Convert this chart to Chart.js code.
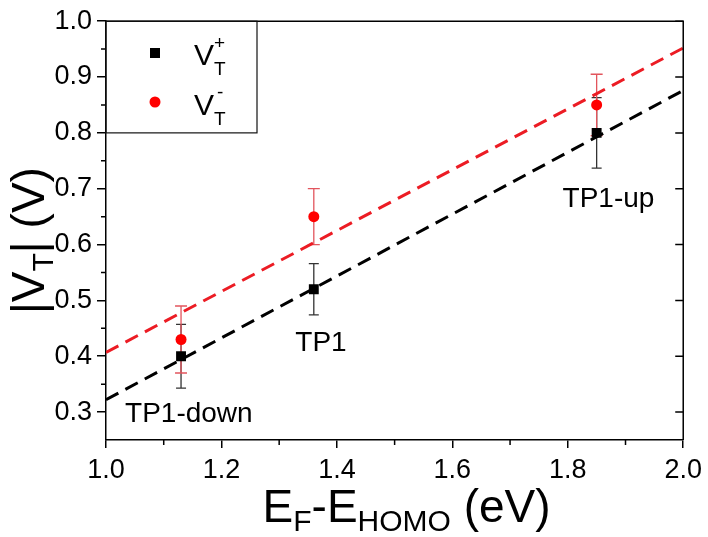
<!DOCTYPE html>
<html>
<head>
<meta charset="utf-8">
<script src="https://cdn.jsdelivr.net/npm/chart.js@4.4.1/dist/chart.umd.min.js"></script>
<style>
  body { margin: 0; background: #fff; }
</style>
</head>
<body>
<canvas id="vt-chart" width="708" height="537"></canvas>
<script>
// E_F - E_HOMO (eV) for the three devices
const energy = [1.13, 1.36, 1.85];
const devices = ['TP1-down', 'TP1', 'TP1-up'];

// |V_T| values and error bars
const vtPlus = [0.40, 0.52, 0.80];
const vtPlusErr = [0.057, 0.046, 0.063];
const vtMinus = [0.43, 0.65, 0.85];
const vtMinusErr = [0.06, 0.05, 0.055];

// linear fits
const fitX = [1.0, 2.0];
const fitPlus = [0.322, 0.876];
const fitMinus = [0.407, 0.952];

// axis ticks
const xTicks = [1.0, 1.2, 1.4, 1.6, 1.8, 2.0];
const xMinor = [1.1, 1.3, 1.5, 1.7, 1.9];
const yTicks = [0.3, 0.4, 0.5, 0.6, 0.7, 0.8, 0.9, 1.0];
const yMinor = [0.35, 0.45, 0.55, 0.65, 0.75, 0.85, 0.95];

const FONT = 'Liberation Sans, Arial, sans-serif';

function pts(xs, ys) {
	return xs.map((x, i) => ({ x: x, y: ys[i] }));
}

// draw text made of pieces (main / sub), centred on cx
function richText(ctx, parts, cx, y) {
	let w = 0;
	parts.forEach(p => {
		ctx.font = p.size + 'px ' + FONT;
		p.w = ctx.measureText(p.t).width;
		w += p.w;
	});
	let x = cx - w / 2;
	parts.forEach(p => {
		ctx.font = p.size + 'px ' + FONT;
		ctx.fillText(p.t, x, y + (p.dy || 0));
		x += p.w;
	});
}

const decor = {
	id: 'decor',
	beforeDatasetsDraw(chart) {
		const ctx = chart.ctx;
		const xs = chart.scales.x, ys = chart.scales.y;
		// error bars
		const bars = [
			{ v: vtPlus, e: vtPlusErr, color: '#333333', cap: 5 },
			{ v: vtMinus, e: vtMinusErr, color: '#e2555d', cap: 6 }
		];
		ctx.save();
		ctx.lineWidth = 1.3;
		bars.forEach(b => {
			ctx.strokeStyle = b.color;
			energy.forEach((ex, i) => {
				const px = xs.getPixelForValue(ex);
				const top = ys.getPixelForValue(b.v[i] + b.e[i]);
				const bot = ys.getPixelForValue(b.v[i] - b.e[i]);
				ctx.beginPath();
				ctx.moveTo(px, top); ctx.lineTo(px, bot);
				ctx.moveTo(px - b.cap, top); ctx.lineTo(px + b.cap, top);
				ctx.moveTo(px - b.cap, bot); ctx.lineTo(px + b.cap, bot);
				ctx.stroke();
			});
		});
		ctx.restore();
	},
	afterDraw(chart) {
		const ctx = chart.ctx;
		const a = chart.chartArea;
		const xs = chart.scales.x, ys = chart.scales.y;
		ctx.save();
		ctx.strokeStyle = '#000';
		ctx.lineWidth = 1.5;
		// frame top + right
		ctx.beginPath();
		ctx.moveTo(a.left, a.top); ctx.lineTo(a.right, a.top); ctx.lineTo(a.right, a.bottom);
		ctx.stroke();
		// right side inward major ticks
		ctx.beginPath();
		yTicks.forEach(v => {
			const py = ys.getPixelForValue(v);
			ctx.moveTo(a.right, py); ctx.lineTo(a.right - 8, py);
		});
		// minor ticks
		yMinor.forEach(v => {
			const py = ys.getPixelForValue(v);
			ctx.moveTo(a.left, py); ctx.lineTo(a.left - 5, py);
		});
		xMinor.forEach(v => {
			const px = xs.getPixelForValue(v);
			ctx.moveTo(px, a.bottom); ctx.lineTo(px, a.bottom + 5);
		});
		ctx.stroke();

		// legend box
		ctx.lineWidth = 1.2;
		ctx.strokeStyle = '#111';
		ctx.strokeRect(a.left, a.top, 151, ys.getPixelForValue(0.8) - a.top);
		ctx.fillStyle = '#000';
		ctx.fillRect(150, 48, 10, 10);
		ctx.fillStyle = '#ff0000';
		ctx.beginPath(); ctx.arc(155, 102, 5.5, 0, Math.PI * 2); ctx.fill();
		ctx.fillStyle = '#000';
		ctx.textAlign = 'left';
		ctx.textBaseline = 'alphabetic';
		ctx.font = '30px ' + FONT;
		ctx.fillText('V', 194, 65);
		ctx.fillText('V', 194, 115);
		ctx.font = '19px ' + FONT;
		ctx.fillText('+', 214, 49);
		ctx.fillText('T', 214, 75);
		ctx.fillText('-', 217, 98);
		ctx.fillText('T', 214, 125);

		// device labels
		ctx.font = '28px ' + FONT;
		const lx = [1.033, 1.328, 1.791];
		const ly = [0.282, 0.409, 0.667];
		devices.forEach((d, i) => {
			ctx.fillText(d, xs.getPixelForValue(lx[i]), ys.getPixelForValue(ly[i]));
		});

		// x title
		richText(ctx, [
			{ t: 'E', size: 46 },
			{ t: 'F', size: 30, dy: 9 },
			{ t: '-E', size: 46 },
			{ t: 'HOMO', size: 30, dy: 9 },
			{ t: ' (eV)', size: 46 }
		], (a.left + a.right) / 2 + 12, 522);

		// y title
		ctx.translate(44, (a.top + a.bottom) / 2 + 10);
		ctx.rotate(-Math.PI / 2);
		richText(ctx, [
			{ t: '|V', size: 46 },
			{ t: 'T', size: 30, dy: 9 },
			{ t: '| (V)', size: 46 }
		], 0, 0);
		ctx.restore();
	}
};

new Chart(document.getElementById('vt-chart'), {
	type: 'scatter',
	data: {
		datasets: [
			{
				label: 'fit +',
				type: 'line',
				data: pts(fitX, fitPlus),
				borderColor: '#000',
				borderWidth: 3,
				borderDash: [14, 8],
				pointRadius: 0,
				order: 3
			},
			{
				label: 'fit -',
				type: 'line',
				data: pts(fitX, fitMinus),
				borderColor: '#ec1c24',
				borderWidth: 3,
				borderDash: [14, 8],
				pointRadius: 0,
				order: 4
			},
			{
				label: 'VT+',
				data: pts(energy, vtPlus),
				pointStyle: 'rect',
				pointRadius: 7,
				backgroundColor: '#000',
				borderColor: '#000',
				borderWidth: 0,
				order: 1
			},
			{
				label: 'VT-',
				data: pts(energy, vtMinus),
				pointStyle: 'circle',
				pointRadius: 5.5,
				backgroundColor: '#ff0000',
				borderColor: '#ff0000',
				borderWidth: 0,
				order: 2
			}
		]
	},
	options: {
		responsive: false,
		animation: false,
		layout: { padding: { top: 15, right: 21, left: 0, bottom: 0 } },
		plugins: {
			legend: { display: false },
			tooltip: { enabled: false }
		},
		scales: {
			x: {
				min: 1.0,
				max: 2.0,
				afterBuildTicks: s => { s.ticks = xTicks.map(v => ({ value: v })); },
				afterFit: s => { s.height = 97; },
				grid: { drawOnChartArea: false, drawTicks: true, tickLength: 8, color: '#000', lineWidth: 1.5 },
				border: { display: true, color: '#000', width: 1.5 },
				ticks: {
					color: '#000',
					padding: 6,
					maxRotation: 0,
					font: { size: 27, family: FONT },
					callback: v => v.toFixed(1)
				}
			},
			y: {
				min: 0.25,
				max: 1.0,
				afterBuildTicks: s => { s.ticks = yTicks.map(v => ({ value: v })); },
				afterFit: s => { s.width = 106; },
				grid: { drawOnChartArea: false, drawTicks: true, tickLength: 9, color: '#000', lineWidth: 1.5 },
				border: { display: true, color: '#000', width: 1.5 },
				ticks: {
					color: '#000',
					padding: 5,
					font: { size: 27, family: FONT },
					callback: v => v.toFixed(1)
				}
			}
		}
	},
	plugins: [decor]
});
</script>
</body>
</html>
